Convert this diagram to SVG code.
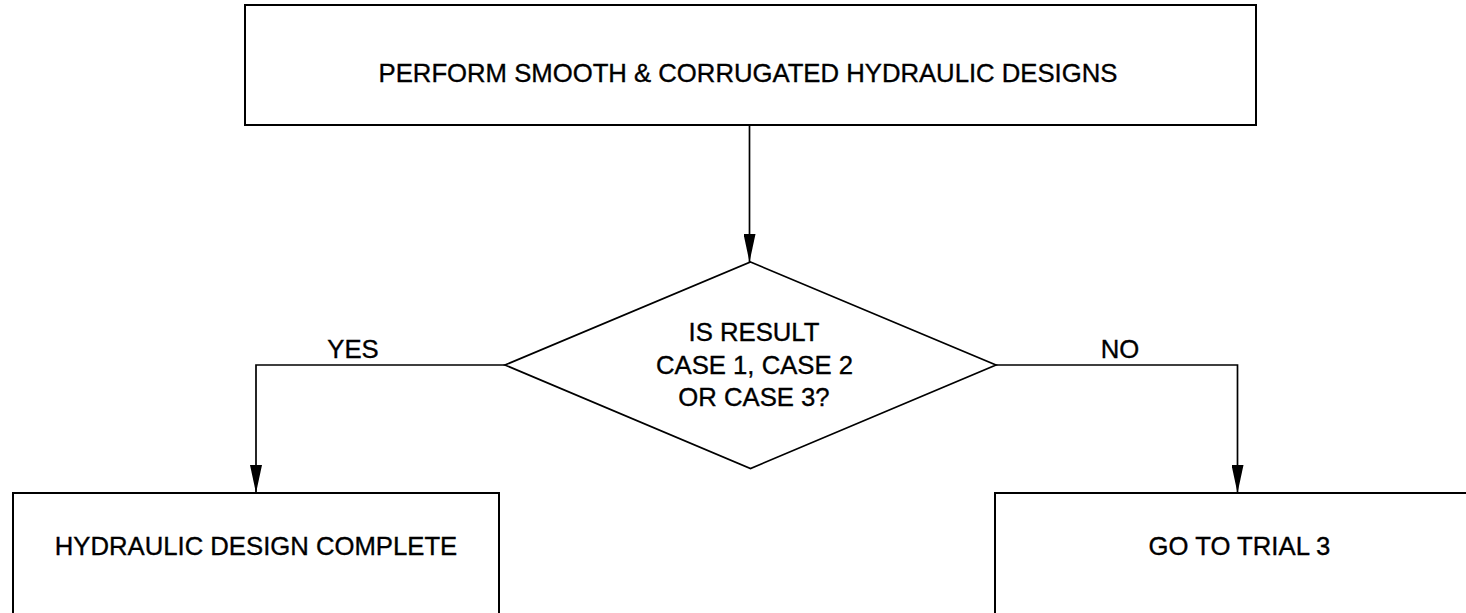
<svg xmlns="http://www.w3.org/2000/svg" width="1466" height="613" viewBox="0 0 1466 613">
  <style>
    .box { fill: #ffffff; stroke: #000000; stroke-width: 2; }
    .dia { fill: #ffffff; stroke: #000000; stroke-width: 1.7; }
    .line { fill: none; stroke: #000000; stroke-width: 1.7; }
    .txt { font-family: "Liberation Sans", Arial, sans-serif; font-size: 25.7px; fill: #000000; stroke: #000000; stroke-width: 0.35; text-anchor: middle; }
  </style>
  <defs>
    <marker id="arrow" viewBox="0 0 28 12" refX="28" refY="6" markerWidth="28" markerHeight="12" markerUnits="userSpaceOnUse" orient="auto">
      <path d="M0,0 L28,6 L0,12 Z" fill="#000000"/>
    </marker>
  </defs>
  <rect width="1466" height="613" fill="#ffffff"/>
  <g id="connectors">
    <line class="line" x1="749.5" y1="125" x2="749.5" y2="262" marker-end="url(#arrow)"/>
    <polyline class="line" points="505,365 256,365 256,493" marker-end="url(#arrow)"/>
    <polyline class="line" points="996,365 1237.5,365 1237.5,493" marker-end="url(#arrow)"/>
    <text class="txt" x="353" y="357.5">YES</text>
    <text class="txt" x="1120" y="357.5">NO</text>
  </g>
  <g id="node-perform">
    <rect class="box" x="245" y="5" width="1011" height="120"/>
    <text class="txt" x="748" y="81.5">PERFORM SMOOTH &amp; CORRUGATED HYDRAULIC DESIGNS</text>
  </g>
  <g id="node-decision">
    <polygon class="dia" points="750.5,262 996,365 750.5,468.5 505,365"/>
    <text class="txt" x="754" y="341">IS RESULT</text>
    <text class="txt" x="754.5" y="374">CASE 1, CASE 2</text>
    <text class="txt" x="754" y="405.5">OR CASE 3?</text>
  </g>
  <g id="node-complete">
    <rect class="box" x="13" y="493" width="486" height="140"/>
    <text class="txt" x="256" y="555">HYDRAULIC DESIGN COMPLETE</text>
  </g>
  <g id="node-trial3">
    <rect class="box" x="995" y="493" width="500" height="140"/>
    <text class="txt" x="1239.5" y="555">GO TO TRIAL 3</text>
  </g>
</svg>
